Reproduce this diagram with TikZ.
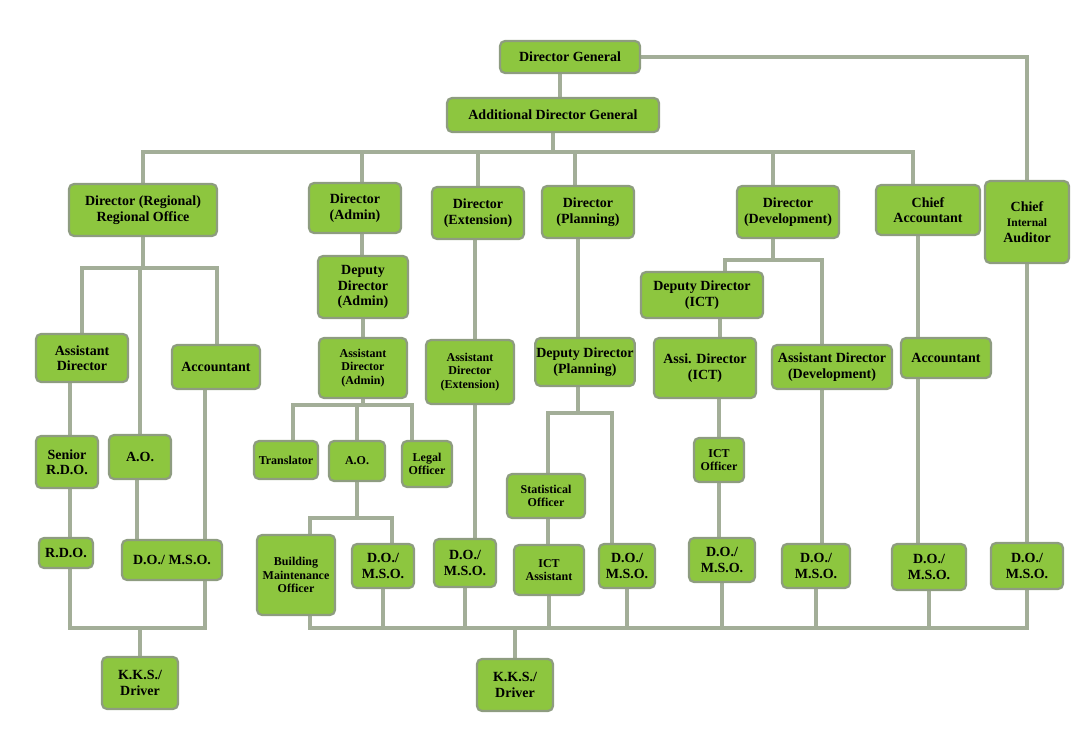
\documentclass[tikz,border=0pt]{standalone}
\usepackage{fontspec}
\setmainfont{Liberation Serif}
\usetikzlibrary{backgrounds}
\definecolor{gf}{HTML}{8DC63F}
\definecolor{gb}{HTML}{8E9C80}
\definecolor{ln}{HTML}{A3AE98}
\begin{document}
\begin{tikzpicture}[x=1pt,y=-1pt,
 box/.style={draw=gb,line width=2.2pt,fill=gf,rounded corners=5pt,align=center,inner sep=1pt,font=\fontsize{14}{15.5}\selectfont\bfseries},
 sbox/.style={box,font=\fontsize{12}{13.5}\selectfont\bfseries},
 wire/.style={draw=ln,line width=3.5pt}]
\useasboundingbox (0,0) rectangle (1080,741);
\newcommand\bx[6]{\node[#1,minimum width=#4pt,minimum height=#5pt] (#2) at (#3) {#6};}
\bx{box}{dg}{570,57}{140}{32}{Director General}
\bx{box}{adg}{553,115}{212}{34}{Additional Director General}
\bx{box}{dreg}{143,210}{148}{52}{Director (Regional)\\Regional Office}
\bx{box}{dadm}{355,208}{92}{50}{Director\\(Admin)}
\bx{box}{dext}{478,213}{92}{52}{Director\\(Extension)}
\bx{box}{dpln}{588,212}{92}{52}{Director\\(Planning)}
\bx{box}{ddev}{788,212}{102}{52}{Director\\(Development)}
\bx{box}{cacc}{928,210}{104}{50}{Chief\\Accountant}
\bx{box}{cia}{1027,222}{84}{82}{Chief\\{\fontsize{11.5}{13.5}\selectfont Internal}\\Auditor}
% regional
\bx{box}{rasd}{82,358}{92}{48}{Assistant\\Director}
\bx{box}{rao}{140,457}{62}{44}{A.O.}
\bx{box}{racc}{216,367}{88}{44}{Accountant}
\bx{box}{rsrdo}{67,462}{62}{52}{Senior\\R.D.O.}
\bx{box}{rrdo}{66,553}{54}{30}{R.D.O.}
\bx{box}{rdo}{172,560}{100}{40}{D.O./ M.S.O.}
\bx{box}{kks1}{140,683}{76}{52}{K.K.S./\\Driver}
% admin
\bx{box}{ddadm}{363,287}{90}{62}{Deputy\\Director\\(Admin)}
\bx{sbox}{adadm}{363,368}{88}{60}{Assistant\\Director\\(Admin)}
\bx{sbox}{tran}{286,460}{64}{38}{Translator}
\bx{sbox}{aao}{357,461}{56}{40}{A.O.}
\bx{sbox}{legal}{427,464}{50}{46}{Legal\\Officer}
\bx{sbox}{bmo}{296,575}{78}{80}{Building\\Maintenance\\Officer}
\bx{box}{ado}{383,566}{62}{44}{D.O./\\M.S.O.}
% ext
\bx{sbox}{adext}{470,372}{88}{64}{Assistant\\Director\\(Extension)}
\bx{box}{edo}{465,563}{62}{48}{D.O./\\M.S.O.}
\bx{box}{kks2}{515,685}{76}{52}{K.K.S./\\Driver}
% plan
\bx{box}{ddpln}{585,362}{96}{48}{Deputy Director\\(Planning)}
\bx{sbox}{stat}{546,496}{78}{44}{Statistical\\Officer}
\bx{sbox}{icta}{549,570}{70}{50}{ICT\\Assistant}
\bx{box}{pdo}{627,566}{56}{44}{D.O./\\M.S.O.}
% dev
\bx{box}{ddict}{702,295}{122}{46}{Deputy Director\\(ICT)}
\bx{box}{adict}{705,368}{102}{60}{Assi. Director\\(ICT)}
\bx{sbox}{icto}{719,460}{50}{44}{ICT\\Officer}
\bx{box}{ido}{722,560}{66}{44}{D.O./\\M.S.O.}
\bx{box}{addev}{832,367}{120}{44}{Assistant Director\\(Development)}
\bx{box}{ddo}{816,566}{68}{44}{D.O./\\M.S.O.}
% acc
\bx{box}{acc}{946,358}{90}{40}{Accountant}
\bx{box}{cdo}{929,567}{74}{46}{D.O./\\M.S.O.}
\bx{box}{iado}{1027,566}{72}{46}{D.O./\\M.S.O.}
\begin{scope}[on background layer]
\draw[wire] (dg.south-|560,0)--(adg.north-|560,0);
\draw[wire] (dg.east)-|(cia.north);
\coordinate (t1) at (143,152); \coordinate (t2) at (913,152);
\draw[wire] (adg.south)--(adg.south|-t1);
\draw[wire] (dreg.north)--(t1)--(t2)--(cacc.north-|t2);
\foreach \n/\x in {dadm/362,dext/478,dpln/575,ddev/773}{\draw[wire] (\n.north-|\x,0)--(\x,152);}
% regional
\coordinate (r1) at (82,268); \coordinate (r2) at (217,268);
\draw[wire] (dreg.south)--(143,268);
\draw[wire] (rasd.north-|r1)--(r1)--(r2)--(racc.north-|r2);
\draw[wire] (rao.north)--(rao.north|-r1);
\draw[wire] (rasd.south-|70,0)--(rsrdo.north-|70,0);
\draw[wire] (rsrdo.south-|70,0)--(rrdo.north-|70,0);
\draw[wire] (rao.south-|137,0)--(rdo.north-|137,0);
\draw[wire] (racc.south-|205,0)--(rdo.north-|205,0);
\coordinate (b1) at (70,628); \coordinate (b2) at (205,628);
\draw[wire] (rrdo.south-|b1)--(b1)--(b2)--(rdo.south-|b2);
\draw[wire] (kks1.north)--(kks1.north|-b1);
% admin
\draw[wire] (dadm.south-|362,0)--(ddadm.north-|362,0);
\draw[wire] (ddadm)--(adadm);
\coordinate (a1) at (293,405); \coordinate (a3) at (412,405);
\draw[wire] (adadm.south)--(adadm.south|-a1);
\draw[wire] (tran.north-|a1)--(a1)--(a3)--(legal.north-|a3);
\draw[wire] (aao.north)--(aao.north|-a1);
\coordinate (c1) at (310,518); \coordinate (c2) at (392,518);
\draw[wire] (aao.south)--(aao.south|-c1);
\draw[wire] (bmo.north-|c1)--(c1)--(c2)--(ado.north-|c2);
% ext
\draw[wire] (dext.south-|475,0)--(adext.north-|475,0);
\draw[wire] (adext.south-|475,0)--(edo.north-|475,0);
% plan
\draw[wire] (dpln.south-|578,0)--(ddpln.north-|578,0);
\coordinate (p1) at (548,413); \coordinate (p2) at (612,413);
\draw[wire] (ddpln.south-|578,0)--(578,413);
\draw[wire] (stat.north-|p1)--(p1)--(p2)--(pdo.north-|p2);
\draw[wire] (stat.south-|548,0)--(icta.north-|548,0);
% dev
\coordinate (d1) at (725,260); \coordinate (d2) at (822,260);
\draw[wire] (ddev.south-|773,0)--(773,260);
\draw[wire] (ddict.north-|d1)--(d1)--(d2)--(addev.north-|d2);
\draw[wire] (ddict.south-|720,0)--(adict.north-|720,0);
\draw[wire] (adict.south-|719,0)--(icto.north);
\draw[wire] (icto)--(ido.north-|icto);
\draw[wire] (addev.south-|822,0)--(ddo.north-|822,0);
% acc
\draw[wire] (cacc.south-|918,0)--(acc.north-|918,0);
\draw[wire] (acc.south-|918,0)--(cdo.north-|918,0);
\draw[wire] (cia)--(iado);
% bottom bus
\coordinate (e1) at (310,628); \coordinate (e2) at (1027,628);
\draw[wire] (bmo.south-|e1)--(e1)--(e2)--(iado.south);
\foreach \n in {ado,edo,icta,pdo,ido,ddo,cdo}{\draw[wire] (\n.south)--(\n.south|-e1);}
\draw[wire] (kks2.north)--(kks2.north|-e1);
\end{scope}
\end{tikzpicture}
\end{document}
